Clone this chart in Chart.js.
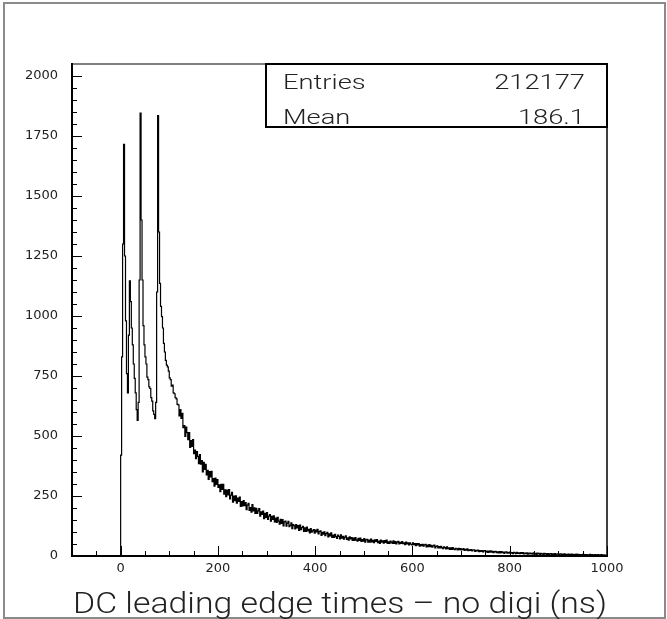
<!DOCTYPE html>
<html><head><meta charset="utf-8">
<script src="https://cdn.jsdelivr.net/npm/chart.js@4.4.1/dist/chart.umd.min.js"></script>
<style>html,body{margin:0;padding:0;background:#fff;overflow:hidden}canvas{display:block}</style>
</head><body>
<canvas id="c" width="667" height="619"></canvas>
<script>
const xRange = [-100, 1000];
const yRange = [0, 2050];
const xTickValues = [0, 200, 400, 600, 800, 1000];
const yTickValues = [0, 250, 500, 750, 1000, 1250, 1500, 1750, 2000];
const minorStep = 50;
const binStart = 0;
const binWidth = 2;
const counts = [
  30,420,830,1300,1715,1250,980,760,680,920,
  1146,1060,950,880,800,740,680,610,565,640,
  1150,1845,1400,1150,960,880,830,800,745,735,
  705,698,660,645,605,590,572,640,1100,1835,
  1350,1136,1040,997,950,886,850,815,795,788,
  770,742,735,708,712,680,676,660,655,632,
  630,584,610,573,594,535,543,498,537,514,
  485,514,452,481,457,485,426,441,406,435,
  415,385,423,383,397,350,390,361,382,338,
  357,319,352,330,353,310,323,291,325,298,
  318,286,296,268,299,277,299,258,276,247,
  275,255,277,238,254,265,224,250,231,251,
  220,241,227,245,207,227,209,231,210,223,
  193,212,219,190,202,183,214,188,201,177,
  199,177,188,198,166,184,173,187,156,178,
  161,181,153,166,172,145,165,153,167,142,
  158,140,161,145,133,153,136,152,125,142,
  145,124,137,144,122,128,138,114,131,126,
  113,131,117,127,107,129,110,118,124,103,
  117,102,120,105,111,96,114,99,105,110,
  95,108,100,111,92,102,105,86,99,91,
  101,85,93,99,80,92,84,96,77,87,
  78,90,81,73,87,82,71,88,74,82,
  70,79,84,69,76,66,80,71,77,65,
  75,65,77,67,62,74,65,75,61,68,
  62,72,58,67,69,58,66,58,70,59,
  65,56,67,61,68,56,62,53,66,58,
  63,54,64,57,66,53,59,52,62,58,
  53,63,53,60,50,58,61,50,57,52,
  60,51,55,47,58,50,55,46,55,49,
  46,55,47,52,43,52,46,52,41,48,
  43,49,41,46,49,38,45,39,47,39,
  44,37,42,45,34,40,42,34,39,34,
  40,34,31,38,35,30,38,31,34,28,
  34,28,35,29,26,32,30,25,32,26,
  31,25,28,31,23,28,24,30,22,26,
  23,27,21,25,26,19,24,21,25,18,
  23,19,23,17,21,22,17,20,15,20,
  16,21,16,19,14,18,19,14,17,13,
  18,13,18,14,16,11,16,17,12,15,
  12,16,12,14,10,15,13,10,15,11,
  13,10,14,11,14,9,12,10,13,8,
  12,9,12,10,8,13,9,11,7,12,
  9,11,7,11,9,7,11,8,10,7,
  10,7,9,10,6,9,7,10,6,8,
  9,6,8,9,5,8,6,9,6,7,
  5,8,7,5,8,4,7,6,5,8,
  5,7,4,6,6,4,7,4,6,5,
  6,4,5,7,3,6,4,5,6,3,
  5,6,4,5,3,6,3,4,5,3
];
const statsLabels = ['Entries', 'Mean'];
const statsValues = ['212177', '186.1'];
const xTitle = 'DC leading edge times \u2013 no digi (ns)';

const points = [{x: binStart, y: 0}];
counts.forEach((c, i) => points.push({x: binStart + i * binWidth, y: c}));
points.push({x: binStart + counts.length * binWidth, y: counts[counts.length - 1]});

function seg(ctx, x1, y1, x2, y2) { ctx.beginPath(); ctx.moveTo(x1, y1); ctx.lineTo(x2, y2); ctx.stroke(); }

const decor = {
  id: 'decor',
  beforeDraw(chart) {
    const ctx = chart.ctx;
    ctx.save();
    ctx.fillStyle = '#fff';
    ctx.fillRect(0, 0, chart.width, chart.height);
    ctx.strokeStyle = '#8a8a8a';
    ctx.lineWidth = 2;
    ctx.strokeRect(4, 3, 661, 615);
    ctx.restore();
  },
  afterDraw(chart) {
    const {ctx, chartArea: a, scales: {x, y}} = chart;
    ctx.save();
    ctx.strokeStyle = '#000';
    ctx.lineWidth = 1;
    for (let v = yRange[0]; v <= yRange[1]; v += minorStep) {
      const py = Math.round(y.getPixelForValue(v)) + 0.5;
      const len = yTickValues.includes(v) ? 10 : 5;
      seg(ctx, a.left, py, a.left + len, py);
    }
    for (let v = xRange[0]; v <= xRange[1]; v += minorStep) {
      const px = Math.round(x.getPixelForValue(v)) + 0.5;
      const len = xTickValues.includes(v) ? 10 : 5;
      seg(ctx, px, a.bottom, px, a.bottom - len);
    }
    // frame
    ctx.strokeStyle = '#808080'; ctx.lineWidth = 2;
    seg(ctx, a.left, a.top, a.right, a.top);
    ctx.strokeStyle = '#000';
    seg(ctx, a.left, a.top - 1, a.left, a.bottom + 1);
    seg(ctx, a.left - 1, a.bottom, a.right + 1, a.bottom);
    ctx.lineWidth = 1.5;
    seg(ctx, a.right, a.top, a.right, a.bottom);
    // axis title, stretched to span the frame width like the original
    ctx.fillStyle = '#222';
    ctx.font = '300 29px Roboto';
    ctx.textBaseline = 'alphabetic';
    ctx.textAlign = 'left';
    const tw = ctx.measureText(xTitle).width;
    const tsx = (a.right - a.left - 1) / tw;
    ctx.save(); ctx.translate(a.left + 1, 613); ctx.scale(tsx, 1);
    ctx.fillText(xTitle, 0, 0); ctx.restore();
    // stats box
    const bx = a.left + 194, by = a.top, bw = a.right - bx, bh = 63;
    ctx.fillStyle = '#fff';
    ctx.fillRect(bx, by, bw, bh);
    ctx.strokeStyle = '#000'; ctx.lineWidth = 2;
    ctx.strokeRect(bx, by, bw, bh);
    ctx.fillStyle = '#222';
    ctx.font = '300 21px Roboto';
    const sx = 1.3;
    const rows = [by + 25, by + 60];
    statsLabels.forEach((lab, i) => {
      ctx.save(); ctx.translate(bx + 17, rows[i]); ctx.scale(sx, 1);
      ctx.textAlign = 'left'; ctx.fillText(lab, 0, 0); ctx.restore();
      ctx.save(); ctx.translate(a.right - 22, rows[i]); ctx.scale(sx, 1);
      ctx.textAlign = 'right'; ctx.fillText(statsValues[i], 0, 0); ctx.restore();
    });
    ctx.restore();
  }
};

new Chart(document.getElementById('c'), {
  type: 'line',
  data: {
    datasets: [{
      data: points,
      stepped: 'after',
      borderColor: '#000',
      borderWidth: 1.2,
      pointRadius: 0,
      fill: false,
      tension: 0
    }]
  },
  options: {
    responsive: false,
    animation: false,
    devicePixelRatio: 1,
    layout: {padding: {left: 0, top: 64, right: 60, bottom: 0}},
    plugins: {legend: {display: false}, tooltip: {enabled: false}, title: {display: false}},
    scales: {
      x: {
        type: 'linear',
        min: xRange[0], max: xRange[1],
        grid: {display: false, drawTicks: false},
        border: {display: false},
        afterBuildTicks: s => { s.ticks = xTickValues.map(v => ({value: v})); },
        afterFit: s => { s.height = 63; },
        ticks: {color: '#222', font: {family: 'DejaVu Sans', size: 13}, padding: 5, maxRotation: 0, autoSkip: false,
                callback: v => String(v)},
        title: {display: false, text: xTitle}
      },
      y: {
        type: 'linear',
        min: yRange[0], max: yRange[1],
        grid: {display: false, drawTicks: false},
        border: {display: false},
        afterBuildTicks: s => { s.ticks = yTickValues.map(v => ({value: v})); },
        afterFit: s => { s.width = 72; },
        ticks: {color: '#222', font: {family: 'DejaVu Sans', size: 13}, padding: 14,
                callback: v => String(v)}
      }
    }
  },
  plugins: [decor]
});
</script>
</body></html>
